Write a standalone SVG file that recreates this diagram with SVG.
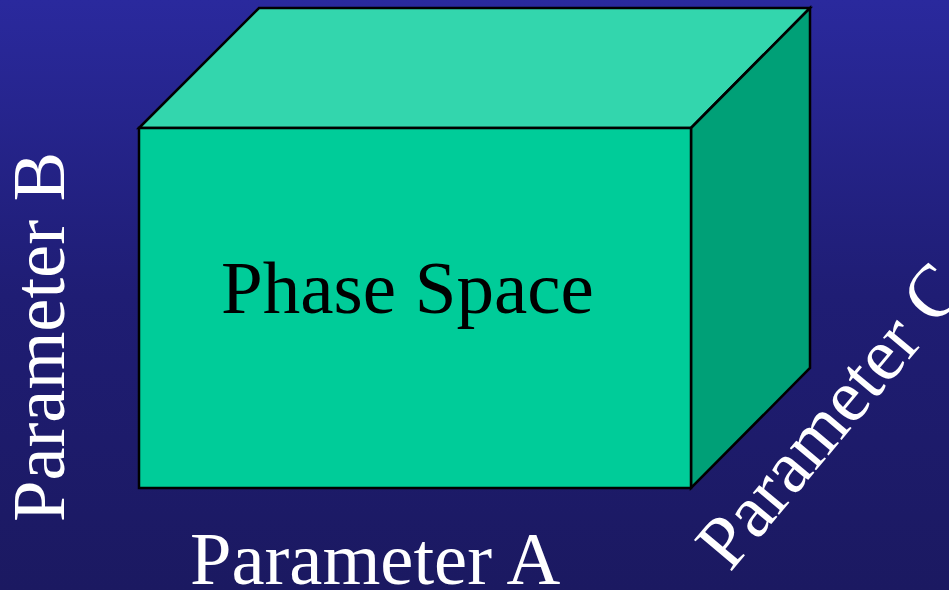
<svg xmlns="http://www.w3.org/2000/svg" width="949" height="590" viewBox="0 0 949 590">
  <defs>
    <linearGradient id="bg" x1="0" y1="0" x2="0" y2="1">
      <stop offset="0" stop-color="#2A299D"/>
      <stop offset="0.5" stop-color="#1F1D74"/>
      <stop offset="1" stop-color="#1B1961"/>
    </linearGradient>
  </defs>
  <style>
    .face { stroke: #000; stroke-width: 2.5; stroke-linejoin: miter; }
    .label { font-family: "Liberation Serif", "Times New Roman", serif; font-size: 74.5px; fill: #fff; }
    .title { font-family: "Liberation Serif", "Times New Roman", serif; font-size: 75px; fill: #000; }
  </style>
  <rect width="949" height="590" fill="url(#bg)"/>
  <g id="box">
    <polygon class="face" fill="#33D6AD" points="139,128 259,8 810,8 691,128"/>
    <polygon class="face" fill="#00A077" points="691,128 810,8 810,368 691,488"/>
    <polygon class="face" fill="#00CC99" points="139,128 691,128 691,488 139,488"/>
    <text class="title" x="221" y="313">Phase Space</text>
  </g>
  <g id="labels">
    <text class="label" x="190" y="584">Parameter A</text>
    <text class="label" transform="translate(64,522) rotate(-90)">Parameter B</text>
    <text class="label" transform="translate(730,573) rotate(-50)">Parameter C</text>
  </g>
</svg>
